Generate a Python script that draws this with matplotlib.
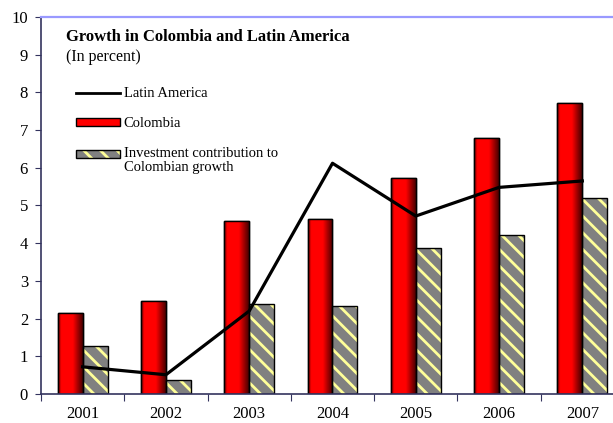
import numpy as np
import matplotlib
matplotlib.use('Agg')
import matplotlib.pyplot as plt
from matplotlib.colors import LinearSegmentedColormap
from matplotlib.patches import Patch, Rectangle
from matplotlib.lines import Line2D
from matplotlib.legend_handler import HandlerBase

years = ['2001', '2002', '2003', '2004', '2005', '2006', '2007']
colombia = [2.16, 2.47, 4.59, 4.64, 5.73, 6.78, 7.72]
investment = [1.26, 0.37, 2.38, 2.34, 3.88, 4.22, 5.21]
latin_america = [0.72, 0.51, 2.20, 6.12, 4.72, 5.48, 5.65]

plt.rcParams['font.family'] = ['Liberation Serif', 'DejaVu Serif']
plt.rcParams['hatch.linewidth'] = 2.0

axis_col = '#33335e'
gray = '#808080'
stripe = '#ffff99'


class HatchHandler(HandlerBase):
    # striped swatch, lifted so it sits on the first line of a two-line label
    def create_artists(self, legend, orig_handle, xdescent, ydescent,
                       width, height, fontsize, trans):
        lift = 0.45 * fontsize
        xy = (-xdescent, -ydescent + lift)
        back = Rectangle(xy, width, height, facecolor=gray, edgecolor=stripe,
                         hatch='\\\\', lw=0, transform=trans)
        edge = Rectangle(xy, width, height, fill=False, edgecolor='black',
                         lw=1, transform=trans)
        return [back, edge]


fig = plt.figure(figsize=(6.13, 4.23), dpi=100)
ax = fig.add_axes([0.0669, 0.0686, 0.951, 0.8913])

x = np.arange(len(years))
w = 0.3

# red bars with a horizontal shading ramp clipped to each bar
red_bars = ax.bar(x - w / 2, colombia, w, color='red', edgecolor='black', lw=1, zorder=2)
shade = LinearSegmentedColormap.from_list(
    'shade', [(0, '#5a0000'), (0.12, '#ff0000'), (0.6, '#ff0000'), (1.0, '#4a0000')])
grad = np.linspace(0, 1, 64).reshape(1, -1)
for b in red_bars:
    x0, y0 = b.get_x(), b.get_y()
    im = ax.imshow(grad, extent=[x0, x0 + b.get_width(), y0, y0 + b.get_height()],
                   aspect='auto', cmap=shade, zorder=2.1, interpolation='bilinear')
    im.set_clip_path(b)
ax.bar(x - w / 2, colombia, w, fill=False, edgecolor='black', lw=1, zorder=2.2)

# hatched investment bars: stripes first, black outline on top
ax.bar(x + w / 2, investment, w, color=gray, edgecolor=stripe, hatch='\\\\', lw=0, zorder=2)
ax.bar(x + w / 2, investment, w, fill=False, edgecolor='black', lw=1, zorder=2.2)

ax.plot(x, latin_america, color='black', lw=2.3, zorder=3)

ax.set_xlim(-0.5, len(years) - 0.5)
ax.set_ylim(0, 10)
ax.set_yticks(range(0, 11))
ax.tick_params(axis='y', direction='out', length=4.3, color=axis_col, labelsize=12, pad=5)
ax.set_xticks(np.arange(-0.5, len(years)), labels=[])
ax.set_xticks(x, labels=years, minor=True)
ax.tick_params(axis='x', which='major', direction='out', length=5, color=axis_col)
ax.tick_params(axis='x', which='minor', length=0, labelsize=12, pad=8.5)

for s in ['left', 'bottom']:
    ax.spines[s].set_color(axis_col)
    ax.spines[s].set_linewidth(1.2)
ax.spines['top'].set_color('#9999ff')
ax.spines['top'].set_linewidth(1.6)
ax.spines['right'].set_visible(False)

handles = [
    Line2D([], [], color='black', lw=2),
    Patch(facecolor='red', edgecolor='black', lw=1),
    Patch(facecolor=gray),
]
labels = ['Latin America', 'Colombia', 'Investment contribution to\nColombian growth']
leg = ax.legend(handles, labels, loc='upper left', bbox_to_anchor=(0.038, 0.848),
                frameon=False, fontsize=10.5, handlelength=3.0, handleheight=0.45,
                handletextpad=0.25, labelspacing=1.15,
                handler_map={handles[2]: HatchHandler()})
for t in leg.get_texts():
    t.set_linespacing(1.1)

fig.text(66 / 613, 1 - 41 / 423, 'Growth in Colombia and Latin America',
         fontsize=12, fontweight='bold', va='baseline', ha='left')
fig.text(66 / 613, 1 - 61 / 423, '(In percent)', fontsize=11.5, va='baseline', ha='left')

fig.savefig('out.png', dpi=100)
